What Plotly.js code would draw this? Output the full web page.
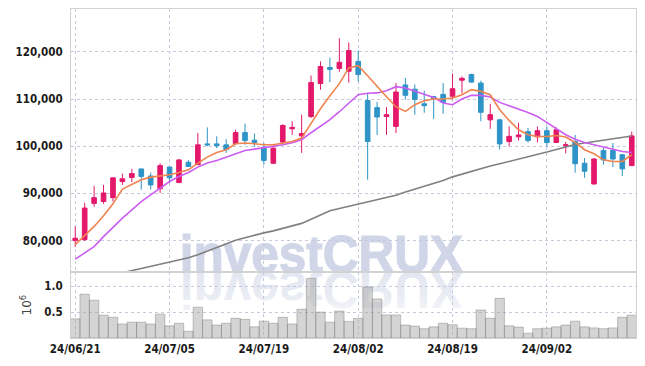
<!DOCTYPE html>
<html><head><meta charset="utf-8">
<script src="https://cdn.plot.ly/plotly-3.0.1.min.js"></script>
<style>html,body{margin:0;padding:0;background:#fff}#chart{width:645px;height:366px}</style>
</head><body><div id="chart"></div>
<script>
const dates = ['2024-06-21','2024-06-24','2024-06-25','2024-06-26','2024-06-27','2024-06-28',
'2024-07-01','2024-07-02','2024-07-03','2024-07-04','2024-07-05','2024-07-08','2024-07-09','2024-07-10','2024-07-11','2024-07-12',
'2024-07-15','2024-07-16','2024-07-17','2024-07-18','2024-07-19','2024-07-22','2024-07-23','2024-07-24','2024-07-25','2024-07-26',
'2024-07-29','2024-07-30','2024-07-31','2024-08-01','2024-08-02','2024-08-05','2024-08-06','2024-08-07','2024-08-08','2024-08-09',
'2024-08-12','2024-08-13','2024-08-14','2024-08-16','2024-08-19','2024-08-20','2024-08-21','2024-08-22','2024-08-23',
'2024-08-26','2024-08-27','2024-08-28','2024-08-29','2024-08-30','2024-09-02','2024-09-03','2024-09-04','2024-09-05','2024-09-06',
'2024-09-09','2024-09-10','2024-09-11','2024-09-12','2024-09-13'];
const openP = [80000,80200,87900,88300,89100,92500,93400,95200,93700,91000,95600,92300,96600,96100,100500,100500,100300,100600,102900,101300,
99800,96400,100900,103700,102200,106300,113300,116700,116500,115900,118000,109700,108200,106300,104200,113000,112100,109000,110500,111000,
110600,114000,115200,113400,105600,105600,101000,102000,103100,102000,103300,100800,100100,101000,96400,92000,99100,99100,98200,95900];
const highP = [83000,88000,91600,91800,93400,94200,95200,95200,94400,96400,95600,97300,97100,102800,104000,102100,101500,103500,104800,102700,
100700,100300,104700,105300,106700,115000,118000,118800,122900,122000,120300,111300,109400,108300,113400,114500,113100,111800,110700,113400,
115400,114800,115400,113900,109000,105800,104200,105000,103900,104200,104200,104000,100900,102400,97500,97500,99800,100700,98400,103100];
const lowP = [78700,79900,87200,87800,88300,91800,92400,90800,90800,90100,92200,92200,95600,96000,100000,99600,98600,100300,100300,99900,
96100,96200,100500,102400,98600,106000,112000,113600,115800,113500,113700,92900,102400,102400,102800,109900,106700,107100,105800,106900,
109900,111200,113500,105300,103700,99300,100000,101200,100800,100800,100000,100700,98500,94400,93300,91900,96100,95600,93700,95800];
const closeP = [80500,86900,89100,90100,93300,93100,94200,93600,91800,95900,93300,97100,95700,100300,100300,100100,99300,102900,101200,100800,
97000,99600,104400,104000,102700,113500,116900,116300,117800,120300,115200,101000,106200,106700,111500,110800,109900,108600,110100,109300,
112200,114400,113600,107200,106700,100500,102100,102400,101200,103300,100800,103500,100300,96300,94700,97300,97100,97300,95200,102200];
const ma5 = [79130,81150,83000,85250,87790,90910,91830,92890,93460,93740,93950,94440,95010,96430,97700,98680,99260,100530,100680,100530,
100320,100320,100680,101020,101730,104780,107960,110720,113270,116620,117090,114960,112640,110510,108390,107390,108810,109660,110020,110020,
110230,110930,112000,111630,110930,107750,105480,103500,102440,102080,102080,102290,101950,100810,99260,98410,97130,96770,96770,98200];
const ma20 = [76060,77330,78730,80850,82850,84760,86520,88280,89700,91130,92530,93590,94440,95580,96430,96990,97700,98410,99110,99400,
99680,100110,100320,100740,101380,102870,104350,105630,107320,109020,110930,111250,111310,111780,112630,112350,111670,111000,110360,109170,
108810,110020,110790,110790,110450,109300,108600,107960,107180,106330,105050,103860,102440,101500,100810,100320,99830,99400,98900,98680];
const ma60 = [70900,71350,71800,72250,72700,73150,73550,73980,74410,74860,75360,75860,76360,76980,77730,78480,79270,80060,80610,81170,
81640,82060,82550,83120,83650,84520,85370,86350,86790,87240,87690,88200,88690,89170,89600,90290,90870,91460,92040,92730,
93510,94080,94760,95310,95800,96280,96750,97260,97750,98240,98770,99320,99850,100380,100680,100980,101250,101530,101850,102190];
const volumeM = [0.37,0.845,0.73,0.44,0.40,0.27,0.305,0.305,0.27,0.46,0.235,0.285,0.13,0.595,0.35,0.25,0.285,0.38,0.36,0.215,
0.325,0.285,0.40,0.27,0.555,1.15,0.50,0.305,0.52,0.32,0.38,0.985,0.755,0.445,0.445,0.25,0.23,0.18,0.215,0.285,
0.255,0.19,0.18,0.54,0.38,0.765,0.235,0.21,0.094,0.18,0.19,0.215,0.25,0.325,0.215,0.195,0.18,0.195,0.40,0.44];
const tickDates = ['2024-06-21','2024-07-05','2024-07-19','2024-08-02','2024-08-19','2024-09-02'];
const tickLabels = ['24/06/21','24/07/05','24/07/19','24/08/02','24/08/19','24/09/02'];
const priceTicks = [80000,90000,100000,110000,120000];
const volTicks = [0.5,1.0];
const volTickLabels = ['0.5','1.0'];
const watermarkText = 'investCRUX';

const tickFont = {family:'"DejaVu Sans Condensed", "Liberation Sans Narrow", sans-serif', size:11.5, color:'#1a1a1a', weight:'bold'};
const gridC = '#c9c9dc';
const frameC = '#d2d2d2';

const wmFont = 'font-family="Liberation Sans, Arial, sans-serif" font-weight="bold" font-size="52" textLength="283" lengthAdjust="spacingAndGlyphs"';
const wm = '<svg xmlns="http://www.w3.org/2000/svg" width="295" height="80" viewBox="0 0 295 80">' +
 '<defs><linearGradient id="g" x1="0" y1="1" x2="0" y2="0">' +
 '<stop offset="0" stop-color="#e0e3ef"/><stop offset="0.6" stop-color="#eaecf4"/><stop offset="1" stop-color="#f8f8fb"/></linearGradient></defs>' +
 '<text x="5" y="42" ' + wmFont + ' fill="#d0d6e8" stroke="#d0d6e8" stroke-width="1.2">' + watermarkText + '</text>' +
 '<g transform="translate(0,84) scale(1,-1)"><text x="5" y="42" ' + wmFont + ' fill="url(#g)">' + watermarkText + '</text></g>' +
 '</svg>';
const wmSrc = 'data:image/svg+xml;charset=utf-8,' + encodeURIComponent(wm);

const traces = [
 {type:'candlestick', x:dates, open:openP, high:highP, low:lowP, close:closeP, xaxis:'x', yaxis:'y',
  increasing:{line:{color:'#e3186b', width:1}, fillcolor:'#e3186b'},
  decreasing:{line:{color:'#2e94c8', width:1}, fillcolor:'#2e94c8'}, whiskerwidth:0, hoverinfo:'skip'},
 {type:'scatter', mode:'lines', x:dates, y:ma60, xaxis:'x', yaxis:'y', line:{color:'#808080', width:1.6}, hoverinfo:'skip'},
 {type:'scatter', mode:'lines', x:dates, y:ma20, xaxis:'x', yaxis:'y', line:{color:'#cc5cf2', width:1.6}, hoverinfo:'skip'},
 {type:'scatter', mode:'lines', x:dates, y:ma5, xaxis:'x', yaxis:'y', line:{color:'#f0834e', width:1.6}, hoverinfo:'skip'},
 {type:'bar', x:dates, y:volumeM, xaxis:'x', yaxis:'y2',
  marker:{color:'rgba(160,160,160,0.45)', line:{color:'rgba(120,120,120,0.6)', width:0.7}}, hoverinfo:'skip'}
];

const layout = {
 width:645, height:366,
 margin:{l:71, r:9, t:9, b:28},
 paper_bgcolor:'#ffffff', plot_bgcolor:'#ffffff',
 showlegend:false, hovermode:false, bargap:0,
 xaxis:{type:'category', range:[-0.45,59.45], anchor:'y2', tickmode:'array', tickvals:tickDates, ticktext:tickLabels,
  showgrid:true, gridcolor:gridC, griddash:'dot', gridwidth:1, showline:true, linecolor:frameC, linewidth:1, mirror:'all',
  rangeslider:{visible:false}, tickfont:tickFont, ticks:'', zeroline:false},
 yaxis:{domain:[0.2,1], range:[73300,129100], tickmode:'array', tickvals:priceTicks, tickformat:',d',
  showgrid:true, gridcolor:gridC, griddash:'dot', gridwidth:1, showline:true, linecolor:frameC, mirror:true,
  tickfont:tickFont, ticks:'', ticklabelstandoff:5, zeroline:false},
 yaxis2:{domain:[0,0.2], range:[0,1.27], tickmode:'array', tickvals:volTicks, ticktext:volTickLabels,
  showgrid:true, gridcolor:gridC, griddash:'dot', gridwidth:1, showline:true, linecolor:frameC, mirror:true,
  tickfont:tickFont, ticks:'', ticklabelstandoff:5, zeroline:false,
  title:{text:'10<sup>6</sup>', font:{family:'DejaVu Sans, sans-serif', size:12, color:'#444'}, standoff:10}},
 images:[{source:wmSrc, xref:'paper', yref:'paper', x:0.1834, y:0.3286, sizex:0.5229, sizey:0.2434,
  sizing:'stretch', xanchor:'left', yanchor:'top', layer:'below'}]
};

Plotly.newPlot('chart', traces, layout, {staticPlot:true, displayModeBar:false});
</script></body></html>
